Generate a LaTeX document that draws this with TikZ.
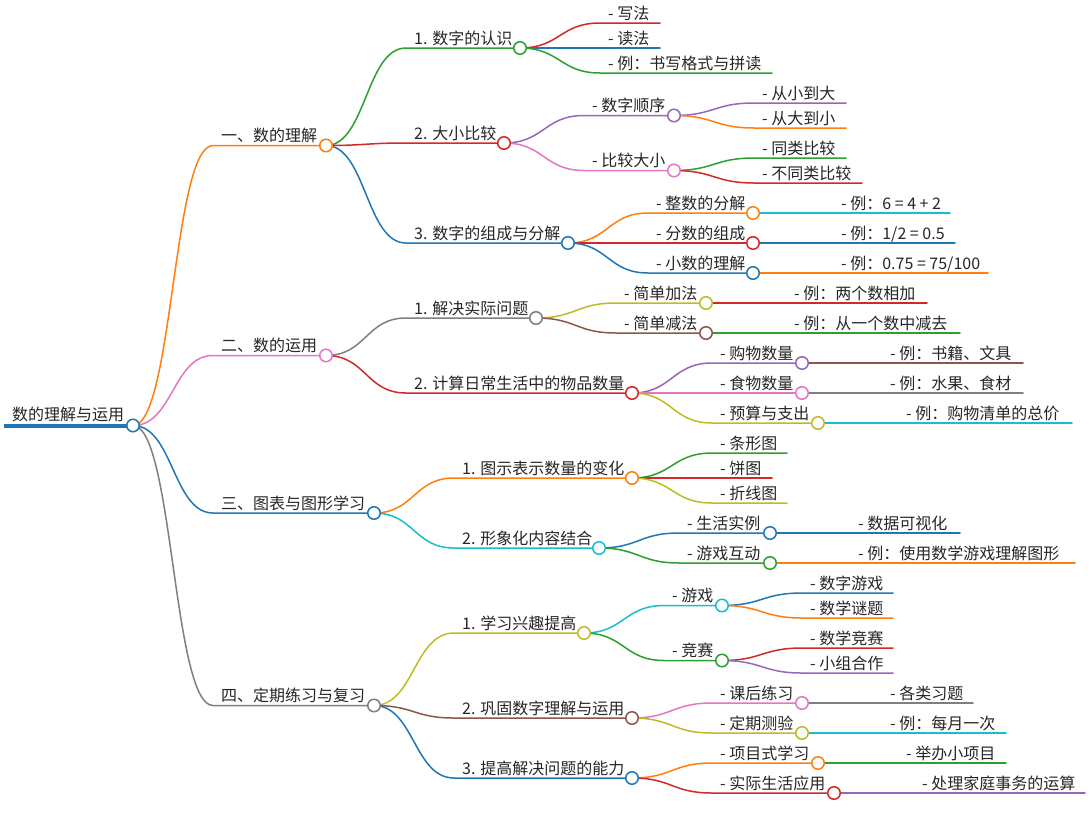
\documentclass[tikz,border=0pt]{standalone}
\usepackage{fontspec}
\setmainfont{Noto Sans CJK SC}
\definecolor{cblue}{HTML}{1F77B4}
\definecolor{corange}{HTML}{FF7F0E}
\definecolor{cgreen}{HTML}{2CA02C}
\definecolor{cred}{HTML}{D62728}
\definecolor{cpurple}{HTML}{9467BD}
\definecolor{cbrown}{HTML}{8C564B}
\definecolor{cpink}{HTML}{E377C2}
\definecolor{cgray}{HTML}{7F7F7F}
\definecolor{colive}{HTML}{BCBD22}
\definecolor{ccyan}{HTML}{17BECF}
\tikzset{
  lnk/.style={line width=1.5pt, line cap=round, line join=round},
  lbl/.style={anchor=base west, inner sep=0pt, font=\fontsize{16}{18}\selectfont, text=black!85},
  knob/.style={circle, fill=white, line width=1.5pt, minimum size=12.5pt, inner sep=0pt},
}
% #1 name, #2 parent, #3 start x, #4 end x, #5 y, #6 colour, #7 text
\newcommand\br[7]{%
  \coordinate (#1-s) at (#3,#5);
  \coordinate (#1) at (#4,#5);
  \draw[lnk,draw=#6] (#2) .. controls +(40,0) and +(-40,0) .. (#1-s) -- (#1);
  \node[lbl] (#1-t) at ([shift={(8,-4)}]#1-s) {#7};
}
\newcommand\knobat[2]{\node[knob,draw=#2] (#1-c) at (#1) {};}
\begin{document}
\begin{tikzpicture}[x=1pt,y=-1pt]
\fill[white] (0,0) rectangle (1091,825);
\useasboundingbox (0,0) rectangle (1091,825);
% root
\coordinate (root-s) at (4,425.5);
\coordinate (root) at (133,425.5);
\draw[line width=4pt,cblue] (root-s) -- (root);
\node[lbl] (root-t) at ([shift={(8,-5)}]root-s) {数的理解与运用};
% level 1
\br{n1}{root}{213}{326}{145.5}{corange}{一、数的理解}
\br{n2}{root}{213}{326}{355.5}{cpink}{二、数的运用}
\br{n3}{root}{213}{374}{513}{cblue}{三、图表与图形学习}
\br{n4}{root}{213}{374}{705.5}{cgray}{四、定期练习与复习}
% branch 1
\br{n11}{n1}{406}{520}{48}{cgreen}{1. 数字的认识}
\br{n12}{n1}{406}{504}{143}{cred}{2. 大小比较}
\br{n13}{n1}{406}{568}{243}{cblue}{3. 数字的组成与分解}
\br{n111}{n11}{600}{660}{23}{cred}{- 写法}
\br{n112}{n11}{600}{660}{48}{cblue}{- 读法}
\br{n113}{n11}{600}{772}{73}{cgreen}{- 例：书写格式与拼读}
\br{n121}{n12}{584}{674}{115.5}{cpurple}{- 数字顺序}
\br{n122}{n12}{584}{674}{170.5}{cpink}{- 比较大小}
\br{n1211}{n121}{754}{846}{103}{cpurple}{- 从小到大}
\br{n1212}{n121}{754}{846}{128}{corange}{- 从大到小}
\br{n1221}{n122}{754}{846}{158}{cgreen}{- 同类比较}
\br{n1222}{n122}{754}{862}{183}{cred}{- 不同类比较}
\br{n131}{n13}{648}{753}{213}{corange}{- 整数的分解}
\br{n132}{n13}{648}{753}{243}{cred}{- 分数的组成}
\br{n133}{n13}{648}{753}{273}{cblue}{- 小数的理解}
\br{n1311}{n131}{833}{950}{213}{ccyan}{- 例：6 = 4 + 2}
\br{n1321}{n132}{833}{955}{243}{cblue}{- 例：1/2 = 0.5}
\br{n1331}{n133}{833}{988}{273}{corange}{- 例：0.75 = 75/100}
% branch 2
\br{n21}{n2}{406}{536}{318}{cgray}{1. 解决实际问题}
\br{n22}{n2}{406}{632}{393}{cred}{2. 计算日常生活中的物品数量}
\br{n211}{n21}{616}{706}{303}{colive}{- 简单加法}
\br{n212}{n21}{616}{706}{333}{cbrown}{- 简单减法}
\br{n2111}{n211}{786}{927}{303}{cred}{- 例：两个数相加}
\br{n2121}{n212}{786}{960}{333}{cgreen}{- 例：从一个数中减去}
\br{n221}{n22}{712}{802}{363}{cpurple}{- 购物数量}
\br{n222}{n22}{712}{802}{393}{cpink}{- 食物数量}
\br{n223}{n22}{712}{818}{423}{colive}{- 预算与支出}
\br{n2211}{n221}{882}{1023}{363}{cbrown}{- 例：书籍、文具}
\br{n2221}{n222}{882}{1023}{393}{cgray}{- 例：水果、食材}
\br{n2231}{n223}{898}{1072}{423}{ccyan}{- 例：购物清单的总价}
% branch 3
\br{n31}{n3}{454}{632}{478}{corange}{1. 图示表示数量的变化}
\br{n32}{n3}{454}{599}{548}{ccyan}{2. 形象化内容结合}
\br{n311}{n31}{712}{787}{453}{cgreen}{- 条形图}
\br{n312}{n31}{712}{772}{478}{cred}{- 饼图}
\br{n313}{n31}{712}{787}{503}{colive}{- 折线图}
\br{n321}{n32}{679}{770}{533}{cblue}{- 生活实例}
\br{n322}{n32}{679}{770}{563}{cgreen}{- 游戏互动}
\br{n3211}{n321}{850}{960}{533}{cblue}{- 数据可视化}
\br{n3221}{n322}{850}{1075}{563}{corange}{- 例：使用数学游戏理解图形}
% branch 4
\br{n41}{n4}{454}{584}{633}{colive}{1. 学习兴趣提高}
\br{n42}{n4}{454}{632}{718}{cbrown}{2. 巩固数字理解与运用}
\br{n43}{n4}{454}{632}{778}{cblue}{3. 提高解决问题的能力}
\br{n411}{n41}{664}{722}{605.5}{ccyan}{- 游戏}
\br{n412}{n41}{664}{722}{660.5}{cgreen}{- 竞赛}
\br{n4111}{n411}{802}{893}{593}{cblue}{- 数字游戏}
\br{n4112}{n411}{802}{893}{618}{corange}{- 数学谜题}
\br{n4121}{n412}{802}{893}{648}{cred}{- 数学竞赛}
\br{n4122}{n412}{802}{893}{673}{cpurple}{- 小组合作}
\br{n421}{n42}{712}{802}{703}{cpink}{- 课后练习}
\br{n422}{n42}{712}{802}{733}{colive}{- 定期测验}
\br{n4211}{n421}{882}{973}{703}{cgray}{- 各类习题}
\br{n4221}{n422}{882}{1006}{733}{ccyan}{- 例：每月一次}
\br{n431}{n43}{712}{818}{763}{corange}{- 项目式学习}
\br{n432}{n43}{712}{834}{793}{cred}{- 实际生活应用}
\br{n4311}{n431}{898}{1006}{763}{cgreen}{- 举办小项目}
\br{n4321}{n432}{914}{1085}{793}{cpurple}{- 处理家庭事务的运算}
% circles
\knobat{root}{cblue}
\knobat{n1}{corange}\knobat{n2}{cpink}\knobat{n3}{cblue}\knobat{n4}{cgray}
\knobat{n11}{cgreen}\knobat{n12}{cred}\knobat{n13}{cblue}
\knobat{n121}{cpurple}\knobat{n122}{cpink}
\knobat{n131}{corange}\knobat{n132}{cred}\knobat{n133}{cblue}
\knobat{n21}{cgray}\knobat{n22}{cred}
\knobat{n211}{colive}\knobat{n212}{cbrown}
\knobat{n221}{cpurple}\knobat{n222}{cpink}\knobat{n223}{colive}
\knobat{n31}{corange}\knobat{n32}{ccyan}
\knobat{n321}{cblue}\knobat{n322}{cgreen}
\knobat{n41}{colive}\knobat{n42}{cbrown}\knobat{n43}{cblue}
\knobat{n411}{ccyan}\knobat{n412}{cgreen}
\knobat{n421}{cpink}\knobat{n422}{colive}
\knobat{n431}{corange}\knobat{n432}{cred}
\end{tikzpicture}
\end{document}
